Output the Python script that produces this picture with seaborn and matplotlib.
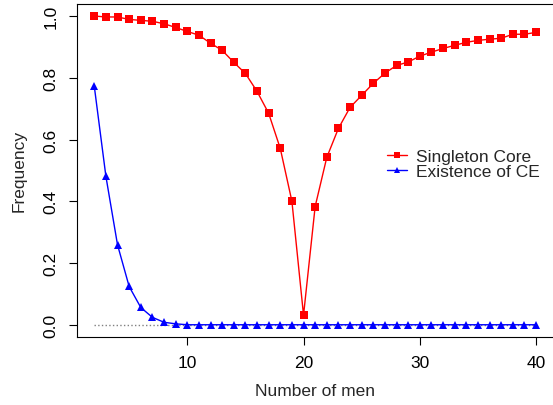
import matplotlib
matplotlib.use("Agg")
import matplotlib.pyplot as plt
import seaborn as sns

# number of men on the x axis
men = [2, 3, 4, 5, 6, 7, 8, 9, 10, 11, 12, 13, 14, 15, 16, 17, 18, 19, 20, 21,
       22, 23, 24, 25, 26, 27, 28, 29, 30, 31, 32, 33, 34, 35, 36, 37, 38, 39, 40]

# frequency of a singleton core
singleton_core = [1.000, 0.997, 0.997, 0.989, 0.986, 0.983, 0.975, 0.963, 0.950,
                  0.938, 0.912, 0.889, 0.850, 0.814, 0.756, 0.685, 0.571, 0.400,
                  0.031, 0.383, 0.542, 0.636, 0.704, 0.743, 0.782, 0.815, 0.840,
                  0.851, 0.870, 0.883, 0.895, 0.905, 0.915, 0.921, 0.925, 0.928,
                  0.941, 0.941, 0.947]

# frequency of existence of a CE
existence_ce = [0.773, 0.481, 0.259, 0.124, 0.056, 0.024, 0.008, 0.003, 0.0,
                0.0, 0.0, 0.0, 0.0, 0.0, 0.0, 0.0, 0.0, 0.0, 0.0, 0.0,
                0.0, 0.0, 0.0, 0.0, 0.0, 0.0, 0.0, 0.0, 0.0, 0.0, 0.0, 0.0,
                0.0, 0.0, 0.0, 0.0, 0.0, 0.0, 0.0]

# reference line at zero
zero_line = [0.0] * len(men)

sns.set_style("ticks")
plt.rcParams['font.family'] = ['Liberation Sans', 'DejaVu Sans']
fs = 12.5

fig = plt.figure(figsize=(5.53, 4.06), dpi=100)
ax = fig.add_axes([0.1385, 0.168, 0.8628, 0.8197])

sns.lineplot(x=men, y=zero_line, color="gray", linestyle=":", linewidth=1, ax=ax)
sns.lineplot(x=men, y=singleton_core, color="red", marker="s", markersize=5.2,
             markeredgewidth=0, linewidth=1, label="Singleton Core", ax=ax)
sns.lineplot(x=men, y=existence_ce, color="blue", marker="^", markersize=6,
             markeredgewidth=0, linewidth=1, label="Existence of CE", ax=ax)

ax.set_xlim(0.48, 41.52)
ax.set_ylim(-0.039, 1.039)
ax.set_xticks([10, 20, 30, 40])
ax.set_yticks([0, 0.2, 0.4, 0.6, 0.8, 1.0])
ax.set_yticklabels(["0.0", "0.2", "0.4", "0.6", "0.8", "1.0"], rotation=90, va="center")
ax.tick_params(length=6, width=0.8, pad=7, colors="black", labelsize=fs)
for sp in ax.spines.values():
    sp.set_linewidth(0.8)
    sp.set_color("black")

ax.set_xlabel("Number of men", fontsize=fs)
ax.set_ylabel("Frequency", fontsize=fs)
ax.xaxis.set_label_coords(0.5, -0.14)
ax.yaxis.set_label_coords(-0.104, 0.5)

ax.legend(loc="center left", bbox_to_anchor=(0.6998, 0.5935), bbox_transform=fig.transFigure,
          frameon=False, borderpad=0, borderaxespad=0, handlelength=1.15,
          handletextpad=0.52, labelspacing=-0.05, markerscale=0.75, fontsize=fs)

fig.savefig("out.png", dpi=100)
